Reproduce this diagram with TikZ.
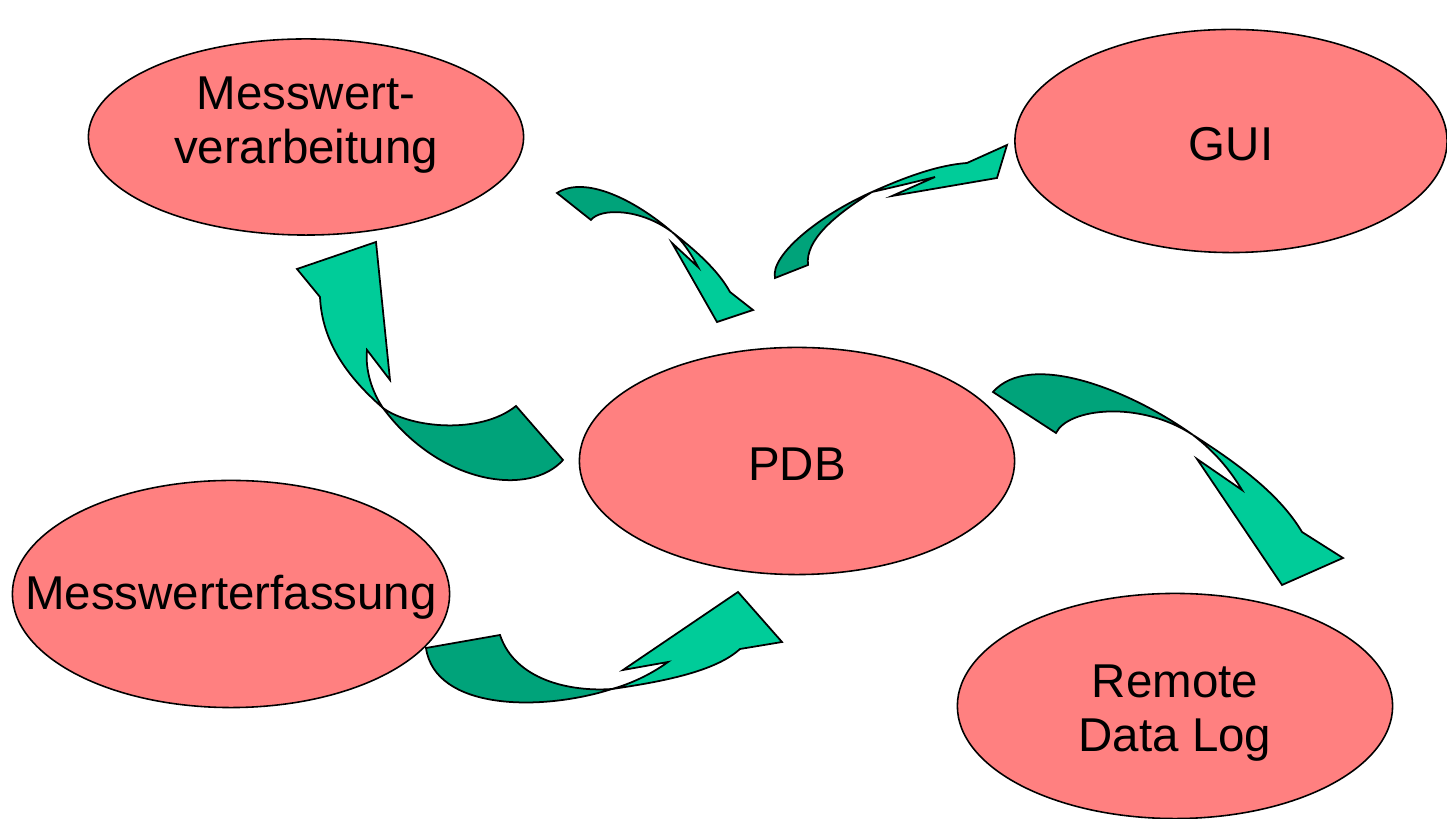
\documentclass[tikz,border=0pt]{standalone}
\usepackage{fontspec}
\setmainfont{Liberation Sans}
\usetikzlibrary{shapes.geometric}

\definecolor{blobred}{RGB}{255,128,128}
\definecolor{arrowlight}{RGB}{0,204,153}
\definecolor{arrowdark}{RGB}{0,163,122}

\tikzset{
  blob/.style={ellipse, draw, fill=blobred, line width=0.45pt, inner sep=0pt},
  blobtext/.style={align=center, font=\fontsize{13.5}{15.5}\selectfont},
  back/.style={draw, fill=arrowdark, line width=0.5pt},
  front/.style={draw, fill=arrowlight, line width=0.5pt}
}

\begin{document}
\begin{tikzpicture}[x=0.01cm, y=-0.01cm]
        \useasboundingbox (0,0) rectangle (1447,819);

        % modules
        \node[blob, minimum width=4.35cm, minimum height=1.96cm,
              label={[blobtext, yshift=0.12cm]center:Messwert-\\verarbeitung}] (verarb) at (306,137) {};
        \node[blob, minimum width=4.32cm, minimum height=2.23cm,
              label={[blobtext, yshift=-0.03cm]center:GUI}] (gui) at (1231,141) {};
        \node[blob, minimum width=4.35cm, minimum height=2.27cm,
              label={[blobtext, yshift=-0.03cm]center:PDB}] (pdb) at (797,461) {};
        \node[blob, minimum width=4.37cm, minimum height=2.27cm,
              label={[blobtext, yshift=-0.03cm]center:Messwerterfassung}] (erfass) at (231,594) {};
        \node[blob, minimum width=4.35cm, minimum height=2.25cm,
              label={[blobtext, yshift=-0.07cm]center:Remote\\Data Log}] (remote) at (1175,706) {};

        % pdb -> verarbeitung
        \path[back] (383,408) .. controls (410,428) and (480,435) .. (516,406)
              -- (563,460) .. controls (530,497) and (440,485) .. (383,408) -- cycle;
        \path[front] (320,297) .. controls (322,340) and (345,375) .. (383,408)
              .. controls (372,392) and (365,370) .. (367,350)
              -- (390,380) -- (376,242) -- (297,269) -- cycle;

        % verarbeitung -> pdb
        \path[back] (557,193) -- (591,220) .. controls (600,208) and (640,208) .. (672,232)
              .. controls (635,200) and (585,175) .. (557,193) -- cycle;
        \path[front] (672,232) .. controls (695,250) and (718,270) .. (730,292)
              -- (753,310) -- (717,322) -- (672,243) -- (698,267)
              .. controls (690,252) and (682,240) .. (672,232) -- cycle;

        % pdb -> gui
        \path[back] (775,278) -- (808,265) .. controls (805,240) and (835,215) .. (872,192)
              .. controls (820,215) and (770,255) .. (775,278) -- cycle;
        \path[front] (872,192) .. controls (910,175) and (940,165) .. (967,163)
              -- (1007,145) -- (997,178) -- (892,196) -- (935,177)
              .. controls (915,182) and (890,188) .. (872,192) -- cycle;

        % pdb -> remote
        \path[back] (993,392) -- (1056,433) .. controls (1068,408) and (1140,400) .. (1193,435)
              .. controls (1130,390) and (1030,350) .. (993,392) -- cycle;
        \path[front] (1193,435) .. controls (1240,465) and (1280,495) .. (1302,532)
              -- (1343,558) -- (1282,585) -- (1197,459) -- (1242,490)
              .. controls (1230,470) and (1215,452) .. (1193,435) -- cycle;

        % erfassung -> pdb
        \path[back] (426,648) -- (500,635) .. controls (515,680) and (570,692) .. (612,689)
              .. controls (540,712) and (435,710) .. (426,648) -- cycle;
        \path[front] (612,689) .. controls (660,682) and (715,672) .. (740,649)
              -- (782,642) -- (738,592) -- (623,670) -- (668,662)
              .. controls (650,675) and (630,684) .. (612,689) -- cycle;
\end{tikzpicture}
\end{document}
